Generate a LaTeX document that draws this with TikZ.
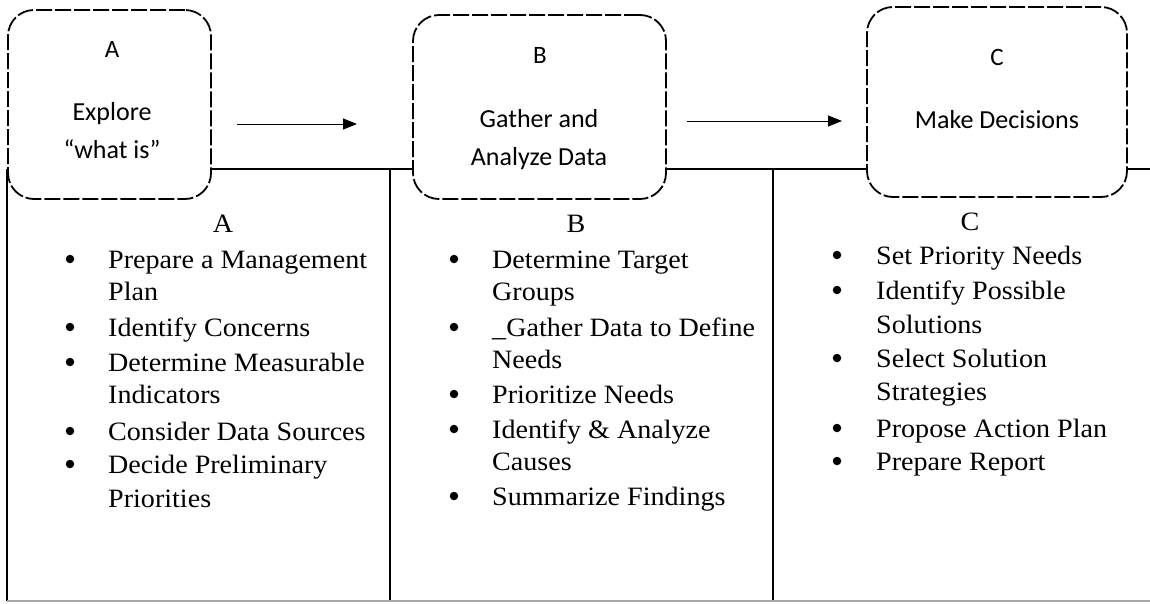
\documentclass[tikz,border=0pt]{standalone}
\usepackage{fontspec}
\setmainfont[FakeStretch=1.06]{Liberation Serif}
\newfontfamily\boxfont{Carlito}
\usetikzlibrary{arrows.meta}
\tikzset{
  topbox/.style={draw, fill=white, line width=1.8pt, dash pattern=on 16pt off 3pt,
    rounded corners=26pt, inner sep=0pt},
  boxtxt/.style={anchor=base, inner sep=0pt, font=\boxfont\fontsize{26}{30}\selectfont},
  boxlet/.style={anchor=base, inner sep=0pt, font=\boxfont\fontsize{25}{28}\selectfont},
  tline/.style={line width=1.2pt},
  flow/.style={line width=1pt, -{Triangle[length=14pt,width=11pt]}},
  item/.style={anchor=base west, inner sep=0pt, font=\fontsize{26.5}{32}\selectfont},
  head/.style={anchor=base, inner sep=0pt, font=\fontsize{26.5}{32}\selectfont},
  bul/.style={circle, fill, inner sep=0pt, minimum size=8.5pt},
}
\begin{document}
\begin{tikzpicture}[x=1pt,y=-1pt]
\useasboundingbox (0,0) rectangle (1150,603);
% table
\coordinate (tl) at (7,169);
\coordinate (tr) at (1150,169);
\coordinate (bl) at (7,601);
\coordinate (br) at (1150,601);
\coordinate (m1t) at (390,169);
\coordinate (m1b) at (390,601);
\coordinate (m2t) at (773,169);
\coordinate (m2b) at (773,601);
\draw[tline] (tl) -- (tr);
\draw[tline] (tl) -- (bl);
\draw[tline] (m1t) -- (m1b);
\draw[tline] (m2t) -- (m2b);
\draw[tline, black!35] (bl) -- (br);
% top boxes
\node[topbox, minimum width=203pt, minimum height=189pt] (A) at (109.5,104.5) {};
\node[topbox, minimum width=253pt, minimum height=184pt] (B) at (539.5,107) {};
\node[topbox, minimum width=260pt, minimum height=190pt] (C) at (997,102) {};
\node[boxlet] (Al) at (112,57) {A};
\node[boxtxt] (At1) at (112,120) {Explore};
\node[boxtxt] (At2) at (112,158) {“what is”};
\node[boxlet] (Bl) at (540,63) {B};
\node[boxtxt] (Bt1) at (539,127) {Gather and};
\node[boxtxt] (Bt2) at (539,165) {Analyze Data};
\node[boxlet] (Cl) at (997,65) {C};
\node[boxtxt] (Ct1) at (997,128) {Make Decisions};
% arrows
\coordinate (ab1) at (237,124);
\coordinate (ab2) at (357,124);
\coordinate (bc1) at (687,121);
\coordinate (bc2) at (842,121);
\draw[flow] (ab1) -- (ab2);
\draw[flow] (bc1) -- (bc2);
% column A
\node[head] (hA) at (223,232) {A};
\node[bul] (ba1) at (70,259) {};
\node[item] (a1) at (108,268) {Prepare a Management};
\node[item] (a1b) at (108,300) {Plan};
\node[bul] (ba2) at (70,327) {};
\node[item] (a2) at (108,336) {Identify Concerns};
\node[bul] (ba3) at (70,362) {};
\node[item] (a3) at (108,371) {Determine Measurable};
\node[item] (a3b) at (108,403) {Indicators};
\node[bul] (ba4) at (70,431) {};
\node[item] (a4) at (108,440) {Consider Data Sources};
\node[bul] (ba5) at (70,464) {};
\node[item] (a5) at (108,473) {Decide Preliminary};
\node[item] (a5b) at (108,507) {Priorities};
% column B
\node[head] (hB) at (576,232) {B};
\node[bul] (bb1) at (454,259) {};
\node[item] (b1) at (492,268) {Determine Target};
\node[item] (b1b) at (492,300) {Groups};
\node[bul] (bb2) at (454,327) {};
\node[item] (b2) at (492,336) {\_Gather Data to Define};
\node[item] (b2b) at (492,368) {Needs};
\node[bul] (bb3) at (454,394) {};
\node[item] (b3) at (492,403) {Prioritize Needs};
\node[bul] (bb4) at (454,429) {};
\node[item] (b4) at (492,438) {Identify \& Analyze};
\node[item] (b4b) at (492,470) {Causes};
\node[bul] (bb5) at (454,496) {};
\node[item] (b5) at (492,505) {Summarize Findings};
% column C
\node[head] (hC) at (970,230) {C};
\node[bul] (bc1b) at (837,255) {};
\node[item] (c1) at (876,264) {Set Priority Needs};
\node[bul] (bc2b) at (837,290) {};
\node[item] (c2) at (876,299) {Identify Possible};
\node[item] (c2b) at (876,333) {Solutions};
\node[bul] (bc3) at (837,358) {};
\node[item] (c3) at (876,367) {Select Solution};
\node[item] (c3b) at (876,400) {Strategies};
\node[bul] (bc4) at (837,428) {};
\node[item] (c4) at (876,437) {Propose Action Plan};
\node[bul] (bc5) at (837,461) {};
\node[item] (c5) at (876,470) {Prepare Report};
\end{tikzpicture}
\end{document}
